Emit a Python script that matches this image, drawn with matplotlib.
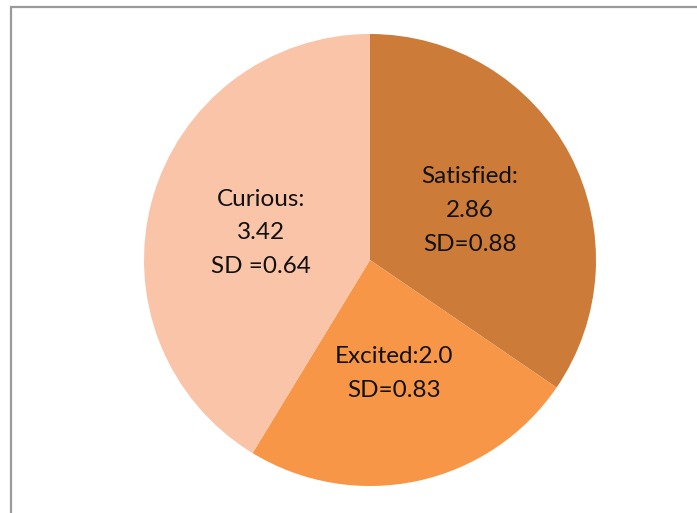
import numpy as np
import matplotlib.pyplot as plt
from matplotlib.patches import Rectangle

# mean ratings and spread for each feeling
categories = ["Satisfied", "Excited", "Curious"]
means = [2.86, 2.0, 3.42]
sds = [0.88, 0.83, 0.64]
templates = ["{c}:\n{m}\nSD={s}", "{c}:{m}\nSD={s}", "{c}:\n{m}\nSD ={s}"]
colors = ["#CD7B39", "#F79646", "#F9C4A7"]

W, H = 697, 513
fig = plt.figure(figsize=(W / 100, H / 100), dpi=100)
plt.rcParams['font.family'] = ['Lato', 'DejaVu Sans']

# thin grey frame, only its top and left edges fall inside the image
fig.patches.append(Rectangle((11 / W, -0.1), 1.2, (H - 7.5) / H + 0.1,
                             transform=fig.transFigure, fill=False,
                             edgecolor="#9a9a9a", linewidth=1.6))

cx, cy, r = 370, 260, 226
ax = fig.add_axes([(cx - r) / W, (H - cy - r) / H, 2 * r / W, 2 * r / H])
wedges, _ = ax.pie(means, colors=colors, startangle=90, counterclock=False,
                   radius=1.0, wedgeprops=dict(linewidth=0))
ax.set_xlim(-1, 1)
ax.set_ylim(-1, 1)
ax.set_aspect("equal")
ax.axis("off")

for w, c, m, s, t in zip(wedges, categories, means, sds, templates):
    ang = np.deg2rad((w.theta1 + w.theta2) / 2)
    d = 0.5
    ax.text(d * np.cos(ang), d * np.sin(ang) - 0.015, t.format(c=c, m=m, s=s),
            ha="center", va="center", fontsize=17.5, linespacing=1.75,
            color="#111111")

fig.savefig("out.png", dpi=100)
